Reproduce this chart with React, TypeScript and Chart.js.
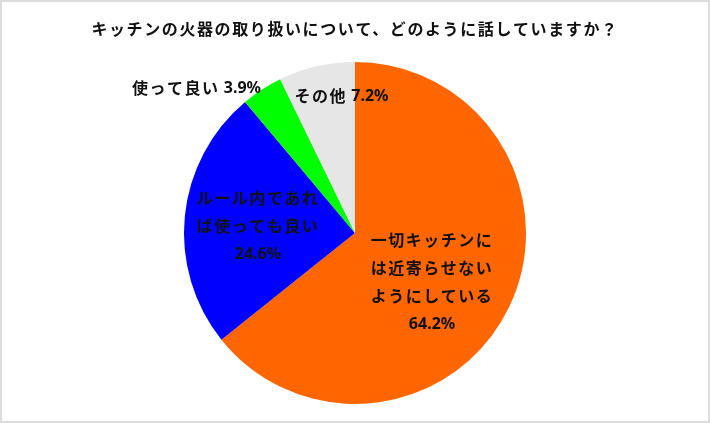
import { useEffect, useRef } from "react"
import { Chart, registerables, ChartConfiguration, Plugin } from "chart.js"

Chart.register(...registerables)

const title = "キッチンの火器の取り扱いについて、どのように話していますか？"
const categories = [
  "一切キッチンには近寄らせないようにしている",
  "ルール内であれば使っても良い",
  "使って良い",
  "その他",
]
const shares = [64.2, 24.6, 3.9, 7.2]
const sliceColors = ["#FF6600", "#0000FF", "#00FF00", "#E6E6E6"]
// how each label is broken into lines ({v} = the value)
const labelLines = [
  ["一切キッチンに", "は近寄らせない", "ようにしている", "{v}%"],
  ["ルール内であれ", "ば使っても良い", "{v}%"],
  ["使って良い {v}%"],
  ["その他 {v}%"],
]

// label placement: fraction of radius along the slice's mid angle, alignment, nudges
const placement = [
  { f: 0.5, align: "center", dx: 0, dy: 12 },
  { f: 0.57, align: "center", dx: 0, dy: 3 },
  { f: 1.01, align: "right", dx: 0, dy: 0 },
  { f: 0.82, align: "center", dx: 18, dy: 0 },
]

const CJK_FONT = 'bold 16px "Noto Sans CJK JP", sans-serif'
const LATIN_FONT = 'bold 16px "Noto Sans", "DejaVu Sans", sans-serif'

// split into runs: Japanese text (letter-spaced) vs ascii digits/symbols
function runs(text: string) {
  const out: { s: string; latin: boolean }[] = []
  for (const ch of text) {
    const latin = ch.charCodeAt(0) < 128
    const last = out[out.length - 1]
    if (last && last.latin === latin) last.s += ch
    else out.push({ s: ch, latin })
  }
  return out
}

function setRunFont(ctx: CanvasRenderingContext2D, latin: boolean) {
  ctx.font = latin ? LATIN_FONT : CJK_FONT
  ;(ctx as any).letterSpacing = latin ? "0px" : "1.5px"
}

function drawMixed(ctx: CanvasRenderingContext2D, text: string, x: number, y: number, align: string) {
  const parts = runs(text)
  const widths = parts.map((p) => {
    setRunFont(ctx, p.latin)
    return ctx.measureText(p.s).width
  })
  const total = widths.reduce((a, b) => a + b, 0)
  let cx = align === "right" ? x - total : align === "center" ? x - total / 2 : x
  ctx.textAlign = "left"
  parts.forEach((p, i) => {
    setRunFont(ctx, p.latin)
    ctx.fillText(p.s, cx, y)
    cx += widths[i]
  })
}

const labelPlugin: Plugin<"pie"> = {
  id: "sliceLabels",
  afterDatasetsDraw(chart) {
    const ctx = chart.ctx
    const meta = chart.getDatasetMeta(0)
    ctx.save()
    ctx.fillStyle = "#111"
    ctx.textBaseline = "middle"
    meta.data.forEach((el, i) => {
      const p = el.getProps(["x", "y", "startAngle", "endAngle", "outerRadius"], true) as any
      const mid = (p.startAngle + p.endAngle) / 2
      const pl = placement[i]
      const ax = p.x + Math.cos(mid) * p.outerRadius * pl.f + pl.dx
      const ay = p.y + Math.sin(mid) * p.outerRadius * pl.f + pl.dy
      const lines = labelLines[i].map((s) => s.replace("{v}", shares[i].toFixed(1)))
      const lh = 28
      lines.forEach((line, k) => {
        drawMixed(ctx, line, ax, ay + (k - (lines.length - 1) / 2) * lh, pl.align)
      })
    })
    // title
    ctx.font = CJK_FONT
    ;(ctx as any).letterSpacing = "1.6px"
    ctx.textAlign = "center"
    ctx.fillText(title, chart.width / 2, 27)
    ctx.restore()
  },
}

export default function App() {
  const canvasRef = useRef<HTMLCanvasElement>(null)
  const chartRef = useRef<Chart | null>(null)

  useEffect(() => {
    document.body.style.margin = "0"
    if (!canvasRef.current) return
    if (chartRef.current) chartRef.current.destroy()
    const ctx = canvasRef.current.getContext("2d")
    if (!ctx) return

    const config: ChartConfiguration<"pie"> = {
      type: "pie",
      data: {
        labels: categories,
        datasets: [
          {
            data: shares,
            backgroundColor: sliceColors,
            borderWidth: 0,
            hoverOffset: 0,
          },
        ],
      },
      options: {
        responsive: false,
        maintainAspectRatio: false,
        animation: false,
        layout: { padding: { top: 60, bottom: 17, left: 0, right: 0 } },
        plugins: {
          legend: { display: false },
          tooltip: { enabled: false },
        },
      },
      plugins: [labelPlugin],
    }

    chartRef.current = new Chart(ctx, config)
    return () => {
      if (chartRef.current) {
        chartRef.current.destroy()
        chartRef.current = null
      }
    }
  }, [])

  return (
    <div
      style={{
        position: "absolute",
        left: 0,
        top: 0,
        width: 710,
        height: 423,
        boxSizing: "border-box",
        border: "2px solid #dcdcdc",
        background: "#fff",
      }}
    >
      <canvas ref={canvasRef} width={706} height={419} style={{ width: 706, height: 419, display: "block" }} />
    </div>
  )
}
